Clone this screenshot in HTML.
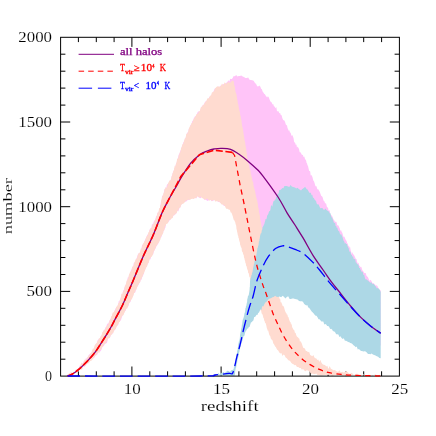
<!DOCTYPE html>
<html><head><meta charset="utf-8"><title>halos</title>
<style>html,body{margin:0;padding:0;background:#fff;width:436px;height:436px;overflow:hidden;font-family:"Liberation Serif",serif}</style></head>
<body>
<svg width="436" height="436" viewBox="0 0 436 436" style="position:absolute;left:0;top:0;will-change:transform">
<rect width="436" height="436" fill="#fff"/>
<g stroke="#000" stroke-width="1" fill="none">
<path d="M78.4,376.1v-4.8M78.4,37.3v4.8M96.3,376.1v-4.8M96.3,37.3v4.8M114.1,376.1v-4.8M114.1,37.3v4.8M131.9,376.1v-9.6M131.9,37.3v9.6M149.8,376.1v-4.8M149.8,37.3v4.8M167.6,376.1v-4.8M167.6,37.3v4.8M185.4,376.1v-4.8M185.4,37.3v4.8M203.3,376.1v-4.8M203.3,37.3v4.8M221.1,376.1v-9.6M221.1,37.3v9.6M238.9,376.1v-4.8M238.9,37.3v4.8M256.7,376.1v-4.8M256.7,37.3v4.8M274.6,376.1v-4.8M274.6,37.3v4.8M292.4,376.1v-4.8M292.4,37.3v4.8M310.2,376.1v-9.6M310.2,37.3v9.6M328.1,376.1v-4.8M328.1,37.3v4.8M345.9,376.1v-4.8M345.9,37.3v4.8M363.7,376.1v-4.8M363.7,37.3v4.8M381.6,376.1v-4.8M381.6,37.3v4.8M60.6,359.2h4.8M399.4,359.2h-4.8M60.6,342.2h4.8M399.4,342.2h-4.8M60.6,325.3h4.8M399.4,325.3h-4.8M60.6,308.3h4.8M399.4,308.3h-4.8M60.6,291.4h9.6M399.4,291.4h-9.6M60.6,274.5h4.8M399.4,274.5h-4.8M60.6,257.5h4.8M399.4,257.5h-4.8M60.6,240.6h4.8M399.4,240.6h-4.8M60.6,223.6h4.8M399.4,223.6h-4.8M60.6,206.7h9.6M399.4,206.7h-9.6M60.6,189.8h4.8M399.4,189.8h-4.8M60.6,172.8h4.8M399.4,172.8h-4.8M60.6,155.9h4.8M399.4,155.9h-4.8M60.6,138.9h4.8M399.4,138.9h-4.8M60.6,122.0h9.6M399.4,122.0h-9.6M60.6,105.1h4.8M399.4,105.1h-4.8M60.6,88.1h4.8M399.4,88.1h-4.8M60.6,71.2h4.8M399.4,71.2h-4.8M60.6,54.2h4.8M399.4,54.2h-4.8"/>
</g>
<path d="M66.4,375.4 L67.6,375.0 L68.8,375.1 L70.0,372.8 L71.2,372.4 L72.4,373.9 L73.6,372.8 L74.7,371.5 L75.8,370.3 L76.9,369.1 L78.1,368.7 L79.0,367.6 L79.9,365.2 L80.8,365.9 L81.8,364.5 L82.6,363.5 L83.5,361.7 L84.3,360.9 L85.2,361.5 L86.0,357.6 L86.8,359.1 L87.5,357.3 L88.3,356.0 L89.1,354.6 L89.8,354.2 L90.6,353.4 L91.4,352.9 L92.1,351.3 L92.9,350.2 L93.7,349.0 L94.5,347.5 L95.2,346.1 L96.0,343.2 L96.8,343.5 L97.6,340.3 L98.3,339.7 L99.1,338.2 L99.9,338.8 L100.7,336.4 L101.5,335.2 L102.3,334.2 L103.1,332.0 L103.9,329.9 L104.7,329.7 L105.5,327.3 L106.2,327.1 L107.0,324.2 L107.7,323.6 L108.4,323.6 L109.1,321.2 L109.8,320.3 L110.5,318.8 L111.2,318.4 L111.9,315.8 L112.6,314.0 L113.3,314.5 L114.0,312.2 L114.8,310.5 L115.5,308.2 L116.2,308.5 L116.9,307.0 L117.5,305.8 L118.2,304.5 L118.8,300.8 L119.4,301.8 L120.0,299.4 L120.4,298.9 L120.9,297.0 L121.4,295.7 L121.9,294.2 L122.4,294.4 L122.9,292.2 L123.4,289.9 L123.8,290.5 L124.3,287.2 L124.8,287.4 L125.3,284.9 L125.8,284.8 L126.3,284.0 L126.8,280.9 L127.2,280.9 L127.7,277.6 L128.3,277.4 L128.8,276.7 L129.3,273.9 L129.9,274.1 L130.4,272.7 L131.0,269.8 L131.5,270.0 L132.1,267.6 L132.6,266.5 L133.2,266.9 L133.8,262.8 L134.3,263.6 L134.9,261.2 L135.4,261.6 L136.1,259.3 L136.8,257.7 L137.5,255.5 L138.2,253.6 L138.9,253.5 L139.6,253.2 L140.2,251.6 L140.8,250.4 L141.4,249.0 L142.0,245.5 L142.7,244.5 L143.3,244.4 L143.9,242.5 L144.5,241.6 L145.1,239.4 L145.7,238.7 L146.2,236.9 L146.8,236.3 L147.3,234.2 L147.9,234.9 L148.4,234.0 L149.0,232.0 L149.6,229.5 L150.2,228.9 L150.7,228.1 L151.3,228.3 L151.9,224.4 L152.4,223.5 L153.0,225.0 L153.6,221.7 L154.2,221.2 L154.7,220.2 L155.3,219.6 L155.8,217.4 L156.3,215.9 L156.8,216.1 L157.3,212.7 L157.9,212.7 L158.4,212.4 L158.9,211.2 L159.4,209.0 L159.9,207.9 L160.2,206.4 L160.4,205.2 L160.7,204.2 L160.9,201.8 L161.2,201.4 L161.4,201.3 L161.7,200.0 L161.9,197.2 L162.2,195.6 L162.7,195.7 L163.2,194.9 L163.7,193.6 L164.1,190.9 L164.6,188.8 L165.1,190.6 L165.6,186.8 L166.2,188.7 L166.8,185.0 L167.4,184.1 L168.1,184.2 L168.7,183.8 L169.4,182.6 L170.0,181.0 L170.7,180.0 L171.3,178.6 L171.7,175.7 L172.1,175.8 L172.5,173.4 L172.9,172.6 L173.3,172.6 L173.7,170.5 L174.1,169.2 L174.4,167.4 L174.8,168.3 L175.2,167.0 L175.6,165.3 L176.0,164.0 L176.4,162.4 L176.8,162.7 L177.2,159.0 L177.6,159.8 L178.1,157.5 L178.5,155.6 L178.9,154.5 L179.4,153.3 L179.8,153.3 L180.3,151.1 L180.7,150.2 L181.1,149.4 L181.6,146.9 L182.0,146.8 L182.5,144.8 L182.9,143.9 L183.4,142.3 L183.8,141.9 L184.3,140.6 L184.7,140.2 L185.2,138.2 L185.6,137.9 L186.1,136.4 L186.6,134.5 L187.2,132.7 L187.7,132.6 L188.2,132.3 L188.7,129.0 L189.2,127.8 L189.8,128.2 L190.3,125.5 L190.9,124.5 L191.5,124.6 L192.1,121.5 L192.7,120.8 L193.3,120.3 L193.9,117.7 L194.5,117.5 L195.1,115.8 L195.9,116.4 L196.7,114.4 L197.5,112.5 L198.3,111.0 L199.1,112.3 L199.9,110.7 L200.7,109.1 L201.5,106.8 L202.3,106.5 L203.0,104.4 L203.8,104.9 L204.6,102.7 L205.4,101.4 L206.4,100.9 L207.5,99.6 L208.6,98.6 L209.6,96.4 L210.4,96.6 L211.2,96.5 L212.0,93.2 L212.7,92.7 L213.5,91.6 L214.3,89.4 L215.1,87.9 L216.2,88.8 L217.3,88.1 L218.4,86.3 L219.5,87.6 L220.6,85.5 L222.0,85.6 L223.4,84.0 L224.7,83.9 L226.1,82.9 L227.5,81.8 L228.4,80.3 L229.3,81.6 L230.2,78.8 L231.0,79.0 L231.9,79.0 L232.8,77.7 L233.7,76.1 L234.9,76.2 L236.2,75.1 L237.4,76.6 L238.7,75.9 L239.9,76.0 L241.3,75.6 L242.7,76.4 L244.0,77.1 L245.4,78.1 L246.8,78.1 L248.2,77.4 L249.5,79.7 L250.9,80.1 L252.3,80.2 L253.6,80.7 L255.0,83.1 L256.1,83.9 L257.2,86.2 L258.2,86.4 L259.3,85.6 L260.4,86.7 L261.1,88.8 L261.9,89.3 L262.6,91.5 L263.4,92.6 L264.1,93.8 L264.9,94.3 L265.6,95.5 L266.4,96.6 L267.1,97.4 L267.9,96.3 L268.7,97.2 L269.4,99.0 L270.2,101.3 L270.9,101.7 L271.7,102.4 L272.5,104.5 L273.2,104.1 L274.0,106.4 L274.7,106.6 L275.5,108.3 L276.3,107.1 L277.0,111.3 L277.8,111.2 L278.5,111.3 L279.3,113.2 L280.1,112.9 L280.8,115.1 L281.6,115.3 L282.3,118.0 L283.1,120.1 L283.7,120.2 L284.4,120.5 L285.0,121.7 L285.6,123.8 L286.2,125.4 L286.9,124.8 L287.5,128.0 L288.1,129.3 L288.7,130.8 L289.4,130.3 L290.0,132.8 L290.6,132.6 L291.2,134.8 L291.8,135.9 L292.4,134.9 L292.9,136.6 L293.5,137.9 L294.1,141.7 L294.7,142.5 L295.3,143.2 L295.9,145.3 L296.4,144.3 L297.0,147.7 L297.6,146.6 L298.2,147.4 L299.0,149.0 L299.7,152.2 L300.5,152.3 L301.2,153.6 L302.0,155.0 L302.8,154.8 L303.5,156.9 L304.3,156.5 L305.0,159.0 L305.8,160.1 L306.2,160.9 L306.6,163.0 L307.1,163.4 L307.5,165.5 L307.9,165.5 L308.4,167.7 L308.8,169.6 L309.2,171.0 L309.7,170.9 L310.2,171.5 L310.7,175.5 L311.2,175.3 L311.7,175.3 L312.2,176.6 L312.7,178.0 L313.2,180.4 L313.7,180.7 L314.2,181.9 L314.7,183.6 L315.2,185.4 L315.9,186.4 L316.6,186.2 L317.2,189.8 L317.9,188.5 L318.6,190.1 L319.3,191.0 L320.0,192.5 L320.7,194.5 L321.3,196.0 L322.0,196.2 L322.7,197.5 L323.3,199.7 L323.9,201.2 L324.5,201.3 L325.0,203.3 L325.6,203.2 L326.2,203.7 L326.8,206.4 L327.4,207.4 L328.0,207.5 L328.5,210.6 L329.1,210.3 L329.7,210.6 L330.3,213.9 L331.0,214.9 L331.7,215.5 L332.4,216.4 L333.1,218.6 L333.8,219.7 L334.4,220.4 L335.1,222.1 L335.8,221.6 L336.5,222.0 L337.2,224.9 L337.9,225.5 L338.5,225.6 L339.2,227.3 L339.8,228.6 L340.4,230.7 L341.1,230.3 L341.7,232.1 L342.3,232.8 L343.0,235.2 L343.6,237.1 L344.2,236.6 L344.9,237.8 L345.5,239.5 L346.1,240.2 L346.7,241.2 L347.2,243.8 L347.8,243.3 L348.4,246.4 L349.0,245.5 L349.5,247.7 L350.1,247.0 L350.7,250.5 L351.3,252.2 L351.8,254.0 L352.4,252.1 L353.0,254.3 L353.7,254.6 L354.4,255.8 L355.1,257.3 L355.8,258.9 L356.5,259.1 L357.1,261.7 L357.8,263.5 L358.5,262.7 L359.2,265.4 L359.9,266.0 L360.6,267.2 L361.3,266.8 L362.1,269.5 L362.8,271.1 L363.5,271.6 L364.3,272.9 L365.0,273.0 L365.7,273.0 L366.5,275.7 L367.2,276.4 L367.9,276.9 L368.7,279.0 L369.4,281.1 L370.3,279.7 L371.3,280.8 L372.2,282.7 L373.1,283.2 L374.1,283.8 L375.0,284.4 L375.9,285.8 L376.9,285.2 L377.8,286.7 L378.8,289.1 L379.7,289.9 L380.7,290.5 L380.7,346.3 L379.7,344.1 L378.6,343.2 L377.6,343.7 L376.6,341.8 L375.5,340.8 L374.5,340.2 L373.5,338.7 L372.4,338.4 L371.4,338.6 L370.4,338.5 L369.3,338.1 L368.3,336.0 L367.2,334.9 L366.2,335.0 L365.2,334.4 L364.1,333.1 L363.1,332.2 L362.1,331.5 L361.0,331.8 L360.0,329.6 L359.0,330.8 L357.9,328.7 L356.9,329.7 L355.9,328.7 L354.8,326.8 L353.8,326.2 L352.8,325.0 L351.7,323.9 L350.7,324.0 L349.7,322.3 L348.6,323.7 L347.6,323.6 L346.6,321.1 L345.5,320.7 L344.5,319.4 L343.5,319.0 L342.4,319.1 L341.4,317.8 L340.3,317.0 L339.3,317.5 L338.3,315.9 L337.2,316.1 L336.2,315.2 L335.2,312.9 L334.1,311.9 L333.1,313.1 L332.1,312.6 L331.0,309.8 L330.0,310.6 L329.1,309.4 L328.2,309.0 L327.3,307.4 L326.4,305.7 L325.5,305.1 L324.5,304.3 L323.6,303.4 L322.7,303.6 L321.8,302.5 L320.9,300.5 L320.0,299.3 L319.1,299.1 L318.2,297.9 L317.3,296.9 L316.4,296.3 L315.5,295.5 L314.5,295.5 L313.6,293.5 L312.7,291.9 L311.8,292.5 L310.9,290.1 L310.0,289.8 L309.1,288.7 L308.2,288.3 L307.3,287.1 L306.4,286.8 L305.5,285.1 L304.5,284.4 L303.6,283.9 L302.7,283.0 L301.8,281.3 L300.9,281.3 L300.0,279.2 L299.2,278.3 L298.5,278.1 L297.8,277.1 L297.0,276.6 L296.2,275.8 L295.5,274.6 L294.8,273.7 L294.0,272.0 L293.2,270.3 L292.5,270.6 L291.8,267.7 L291.0,267.5 L290.2,268.0 L289.5,265.6 L288.8,265.0 L288.0,264.2 L287.2,262.8 L286.5,262.9 L285.8,260.2 L285.0,260.5 L284.2,257.7 L283.5,258.0 L282.8,257.8 L282.0,255.7 L281.2,255.2 L280.5,253.4 L279.8,252.2 L279.0,251.1 L278.2,251.0 L277.5,248.7 L276.8,248.9 L276.0,248.1 L275.2,247.9 L274.5,246.1 L273.8,244.6 L273.0,243.3 L272.2,243.2 L271.5,242.5 L270.8,241.7 L270.0,239.1 L269.2,238.9 L268.4,237.4 L267.6,236.5 L266.8,237.3 L266.0,235.8 L265.2,233.1 L264.4,232.1 L263.6,231.8 L262.8,232.0 L262.0,229.8 L261.2,228.4 L260.4,227.5 L259.6,226.5 L258.8,225.5 L258.0,225.2 L257.2,224.6 L256.4,223.3 L255.6,221.4 L254.8,220.8 L254.0,220.2 L253.2,218.8 L252.4,218.6 L251.6,217.0 L250.8,215.6 L250.0,215.6 L248.9,214.8 L247.8,213.1 L246.7,212.6 L245.6,212.3 L244.4,211.6 L243.3,209.6 L242.2,210.2 L241.1,208.9 L240.0,207.9 L238.6,207.9 L237.2,206.5 L235.8,207.6 L234.4,206.4 L233.0,207.2 L231.7,207.5 L230.3,207.0 L229.0,205.6 L227.7,207.0 L226.3,206.5 L225.0,206.1 L223.9,205.9 L222.7,204.3 L221.6,203.9 L220.5,202.8 L219.3,202.0 L218.2,202.0 L216.9,200.7 L215.6,200.7 L214.4,200.0 L213.1,200.8 L211.8,201.2 L210.5,200.0 L209.3,199.6 L208.0,201.1 L206.7,200.4 L205.5,198.9 L204.3,199.9 L203.2,198.1 L202.0,196.6 L200.5,198.3 L199.0,197.6 L197.5,196.2 L196.2,198.4 L195.0,198.1 L193.7,198.2 L192.5,198.1 L191.2,198.6 L189.9,199.1 L188.7,200.1 L187.4,200.3 L186.3,201.4 L185.1,201.8 L184.0,202.3 L182.8,202.9 L181.7,203.9 L181.0,205.6 L180.3,207.4 L179.7,207.5 L179.0,209.2 L178.3,211.5 L177.5,210.5 L176.6,212.6 L175.8,213.9 L175.0,214.2 L174.2,215.4 L173.3,215.4 L172.5,218.3 L171.6,216.6 L170.7,219.6 L169.8,220.0 L168.9,221.3 L168.0,222.6 L167.1,222.6 L166.2,223.0 L165.8,225.3 L165.3,227.9 L164.9,228.2 L164.4,229.5 L164.0,230.4 L163.5,230.8 L163.1,233.1 L162.6,233.3 L162.2,234.2 L161.6,236.4 L161.0,237.7 L160.4,237.3 L159.8,239.5 L159.1,241.5 L158.4,243.2 L157.7,244.3 L157.1,245.4 L156.4,246.1 L155.7,248.6 L155.0,248.6 L154.3,250.8 L153.7,251.8 L153.0,254.9 L152.3,254.4 L151.6,255.3 L151.0,257.3 L150.4,259.5 L149.7,259.1 L149.1,260.4 L148.5,263.4 L147.9,263.1 L147.4,265.0 L146.8,266.3 L146.2,267.3 L145.6,268.5 L145.0,269.8 L144.4,271.1 L143.8,273.8 L143.2,275.2 L142.6,276.4 L142.0,277.7 L141.4,280.1 L140.8,279.2 L140.1,282.2 L139.5,283.1 L138.8,283.8 L138.2,285.6 L137.5,286.3 L136.9,287.5 L136.2,288.9 L135.6,291.0 L135.0,292.9 L134.3,292.8 L133.7,293.3 L133.0,296.2 L132.4,296.5 L131.7,297.4 L131.1,300.0 L130.4,302.1 L129.8,302.4 L129.2,303.1 L128.5,305.8 L127.8,307.1 L127.0,307.1 L126.3,308.8 L125.5,310.9 L124.8,311.2 L124.0,313.3 L123.3,314.7 L122.5,315.4 L121.8,317.6 L121.0,319.9 L120.3,320.8 L119.6,321.7 L118.8,322.0 L118.1,325.2 L117.3,325.5 L116.5,326.3 L115.8,328.8 L114.9,328.2 L114.1,331.3 L113.3,331.6 L112.4,334.2 L111.6,333.7 L110.7,335.6 L109.8,338.2 L108.8,337.9 L107.9,339.2 L107.0,342.7 L106.0,343.4 L105.1,343.4 L104.1,345.4 L103.1,346.5 L102.1,347.6 L101.2,350.2 L100.2,351.6 L99.2,351.2 L98.2,352.3 L97.2,354.8 L96.3,355.2 L95.3,355.8 L94.3,357.8 L93.4,357.6 L92.4,358.4 L91.4,359.6 L90.3,360.2 L89.2,361.8 L88.1,363.3 L87.0,363.2 L85.8,365.2 L84.6,366.7 L83.4,366.4 L82.2,367.3 L81.1,368.9 L80.1,369.3 L79.0,370.4 L78.0,371.1 L76.9,371.9 L75.8,371.9 L74.7,373.1 L73.6,373.7 L72.4,374.0 L71.3,374.4 L70.2,375.5 L69.1,376.0 L69.0,376.0Z" fill="#ffc4f8"/>
<path d="M66.4,375.9 L67.6,374.6 L68.8,373.7 L70.0,373.2 L71.2,372.4 L72.4,372.8 L73.6,372.8 L74.7,372.8 L75.8,369.5 L76.9,369.6 L78.1,368.6 L79.0,368.2 L79.9,366.9 L80.8,364.0 L81.8,362.4 L82.6,363.8 L83.5,362.6 L84.3,360.3 L85.2,358.9 L86.0,360.7 L86.8,358.5 L87.5,357.3 L88.3,356.8 L89.1,354.3 L89.8,355.8 L90.6,353.3 L91.4,352.8 L92.1,350.7 L92.9,348.5 L93.7,348.7 L94.5,345.8 L95.2,344.5 L96.0,343.9 L96.8,342.7 L97.6,340.9 L98.3,340.6 L99.1,337.9 L99.9,338.4 L100.7,336.2 L101.5,335.8 L102.3,332.2 L103.1,331.6 L103.9,330.3 L104.7,329.7 L105.5,328.4 L106.2,326.9 L107.0,325.4 L107.7,325.3 L108.4,323.4 L109.1,322.7 L109.8,320.0 L110.5,319.5 L111.2,316.4 L111.9,316.1 L112.6,312.7 L113.3,312.6 L114.0,311.9 L114.8,310.2 L115.5,310.1 L116.2,306.8 L116.9,306.6 L117.5,306.0 L118.2,303.5 L118.8,302.9 L119.4,302.2 L120.0,299.4 L120.4,298.8 L120.9,297.4 L121.4,294.1 L121.9,293.4 L122.4,294.2 L122.9,291.4 L123.4,291.2 L123.8,290.3 L124.3,289.9 L124.8,285.8 L125.3,286.2 L125.8,284.3 L126.3,282.5 L126.8,280.3 L127.2,280.8 L127.7,279.1 L128.3,278.5 L128.8,275.3 L129.3,273.9 L129.9,272.4 L130.4,271.8 L131.0,271.3 L131.5,270.7 L132.1,267.4 L132.6,266.5 L133.2,266.2 L133.8,265.0 L134.3,262.3 L134.9,261.9 L135.4,259.7 L136.1,259.1 L136.8,258.8 L137.5,256.4 L138.2,253.9 L138.9,253.3 L139.6,252.9 L140.2,251.6 L140.8,248.5 L141.4,248.8 L142.0,247.3 L142.7,244.6 L143.3,243.3 L143.9,242.8 L144.5,241.0 L145.1,241.0 L145.7,238.5 L146.2,237.3 L146.8,236.3 L147.3,236.2 L147.9,234.5 L148.4,232.0 L149.0,232.4 L149.6,229.9 L150.2,229.5 L150.7,228.5 L151.3,227.6 L151.9,227.9 L152.4,225.1 L153.0,224.2 L153.6,224.1 L154.2,222.3 L154.7,220.7 L155.3,219.9 L155.8,218.2 L156.3,217.9 L156.8,215.5 L157.3,214.0 L157.9,212.2 L158.4,212.4 L158.9,209.5 L159.4,208.0 L159.9,207.9 L160.2,206.4 L160.4,205.7 L160.7,204.9 L160.9,203.8 L161.2,200.6 L161.4,199.3 L161.7,200.1 L161.9,197.9 L162.2,196.7 L162.7,196.0 L163.2,194.4 L163.7,192.6 L164.1,193.1 L164.6,188.8 L165.1,188.9 L165.6,187.3 L166.2,188.3 L166.8,187.3 L167.4,186.0 L168.1,183.1 L168.7,182.3 L169.4,180.4 L170.0,180.5 L170.7,180.4 L171.3,177.8 L171.7,176.4 L172.1,175.6 L172.5,173.8 L172.9,172.7 L173.3,170.9 L173.7,171.1 L174.1,169.0 L174.4,167.6 L174.8,165.4 L175.2,166.7 L175.6,165.7 L176.0,163.7 L176.4,162.9 L176.8,160.9 L177.2,158.4 L177.6,158.6 L178.1,158.7 L178.5,157.0 L178.9,154.5 L179.4,155.1 L179.8,151.9 L180.3,152.5 L180.7,150.2 L181.1,147.7 L181.6,147.8 L182.0,145.8 L182.5,144.4 L182.9,143.7 L183.4,143.9 L183.8,141.8 L184.3,140.2 L184.7,138.5 L185.2,138.6 L185.6,138.1 L186.1,134.8 L186.6,133.5 L187.2,133.9 L187.7,132.5 L188.2,131.7 L188.7,129.5 L189.2,127.7 L189.8,126.6 L190.3,125.7 L190.9,125.0 L191.5,122.9 L192.1,123.2 L192.7,121.7 L193.3,119.8 L193.9,119.2 L194.5,117.8 L195.1,117.2 L195.9,115.4 L196.7,114.1 L197.5,114.0 L198.3,113.1 L199.1,111.2 L199.9,111.3 L200.7,107.6 L201.5,107.0 L202.3,106.3 L203.0,104.8 L203.8,104.9 L204.6,103.3 L205.4,101.9 L206.4,100.9 L207.5,98.3 L208.6,98.5 L209.6,97.1 L210.4,95.4 L211.2,95.3 L212.0,92.3 L212.7,92.2 L213.5,91.8 L214.3,90.7 L215.1,88.4 L216.2,87.2 L217.3,86.3 L218.4,86.8 L219.5,86.5 L220.6,86.5 L222.0,83.6 L223.4,85.5 L224.7,82.3 L226.1,84.0 L227.5,82.4 L228.7,81.9 L229.9,82.9 L231.1,81.7 L232.3,80.6 L233.5,81.0 L233.8,81.8 L234.0,82.4 L234.2,86.2 L234.5,85.1 L234.8,85.9 L235.0,88.5 L235.2,90.0 L235.5,91.6 L235.8,93.0 L236.0,92.4 L236.2,93.7 L236.5,94.2 L236.7,96.1 L237.0,97.7 L237.2,99.4 L237.5,100.6 L237.7,101.6 L238.0,104.7 L238.2,103.7 L238.5,105.3 L238.7,107.8 L239.0,107.6 L239.2,110.4 L239.5,110.2 L239.7,111.5 L240.0,112.6 L240.2,115.0 L240.5,116.1 L240.8,116.6 L241.0,119.6 L241.3,119.4 L241.5,120.1 L241.7,122.9 L242.0,124.2 L242.2,127.0 L242.4,126.1 L242.6,128.5 L242.8,128.0 L243.1,130.0 L243.3,132.3 L243.5,131.9 L243.7,135.2 L243.9,135.1 L244.1,136.7 L244.4,139.0 L244.6,140.2 L244.8,141.1 L245.0,141.9 L245.2,142.5 L245.4,145.5 L245.6,144.9 L245.8,147.2 L246.0,147.8 L246.2,149.3 L246.3,150.5 L246.5,151.8 L246.7,152.8 L246.9,153.4 L247.1,156.2 L247.3,157.6 L247.5,158.3 L247.7,161.5 L248.0,161.0 L248.3,162.6 L248.6,165.6 L248.9,163.5 L249.1,166.0 L249.4,166.9 L249.7,169.8 L250.0,168.7 L250.3,170.1 L250.6,171.5 L250.9,174.4 L251.2,174.3 L251.4,176.8 L251.7,176.7 L252.0,178.5 L252.3,180.1 L252.6,182.0 L252.9,181.2 L253.2,182.1 L253.5,185.7 L253.8,185.9 L254.0,188.4 L254.3,187.9 L254.6,189.8 L254.9,190.4 L255.2,191.6 L255.5,193.7 L255.8,194.7 L256.1,196.7 L256.3,198.1 L256.6,198.1 L256.9,200.4 L257.2,199.9 L257.4,202.1 L257.6,202.6 L257.9,204.3 L258.1,206.2 L258.3,208.2 L258.5,207.7 L258.7,208.9 L259.0,212.2 L259.2,213.1 L259.4,212.8 L259.6,214.7 L259.8,215.1 L260.0,217.4 L260.2,219.6 L260.4,220.3 L260.7,221.2 L260.9,221.4 L261.1,223.8 L261.3,224.4 L261.5,225.7 L261.7,227.0 L262.0,228.5 L262.3,229.3 L262.6,231.3 L262.9,231.5 L263.2,233.3 L263.5,236.7 L263.9,236.7 L264.2,236.6 L264.5,239.7 L264.8,240.3 L265.1,241.4 L265.4,242.9 L265.7,244.6 L266.0,244.3 L266.3,246.5 L266.6,248.4 L266.9,249.2 L267.2,250.8 L267.6,252.4 L267.9,253.5 L268.2,252.9 L268.5,255.2 L268.8,257.0 L269.1,258.4 L269.4,258.6 L269.8,260.3 L270.1,260.8 L270.4,261.4 L270.7,265.0 L271.0,264.0 L271.3,265.9 L271.6,267.7 L271.9,268.3 L272.2,268.8 L272.6,270.8 L272.9,272.0 L273.2,273.5 L273.5,274.6 L273.8,277.3 L274.1,278.1 L274.4,277.7 L274.8,281.0 L275.1,280.4 L275.4,283.5 L275.7,284.4 L276.0,285.7 L276.3,286.1 L276.7,287.8 L277.0,287.8 L277.3,288.9 L277.6,292.3 L278.0,293.2 L278.3,292.6 L278.6,295.8 L279.0,297.1 L279.3,297.6 L279.6,299.4 L279.9,298.5 L280.3,299.6 L280.6,302.2 L281.3,302.3 L282.0,304.1 L282.7,305.9 L283.3,305.9 L284.0,307.1 L284.7,309.7 L285.4,311.8 L285.9,312.8 L286.4,313.3 L286.9,314.8 L287.4,314.6 L288.0,317.2 L288.5,317.0 L289.0,319.3 L289.5,320.5 L290.0,321.8 L290.6,322.2 L291.1,325.0 L291.6,323.3 L292.1,326.9 L292.6,328.0 L293.2,328.9 L293.7,330.1 L294.3,330.3 L295.0,333.0 L295.6,332.7 L296.2,334.9 L296.9,336.4 L297.5,337.1 L298.1,337.4 L298.7,338.3 L299.4,338.7 L300.0,342.0 L300.6,341.1 L301.3,342.6 L301.9,343.8 L302.5,345.8 L303.2,347.7 L303.8,348.0 L304.9,348.6 L305.9,351.1 L306.9,351.1 L308.0,352.3 L309.1,351.7 L310.2,355.1 L311.2,355.4 L312.3,356.2 L313.4,354.9 L314.4,357.6 L315.4,358.2 L316.4,358.4 L317.3,359.9 L318.3,359.5 L319.3,361.9 L320.3,359.8 L321.5,362.8 L322.6,364.3 L323.8,364.8 L325.0,364.9 L326.2,366.6 L327.3,365.8 L328.5,369.0 L329.7,366.0 L330.9,368.7 L332.1,369.2 L333.2,370.3 L334.4,370.1 L335.6,370.6 L336.8,371.4 L338.1,371.8 L339.4,370.2 L340.8,372.5 L342.1,371.7 L343.4,372.4 L344.7,372.2 L346.0,370.9 L347.4,372.0 L348.7,373.2 L350.0,373.9 L351.2,373.1 L352.5,373.6 L353.8,374.9 L355.0,374.7 L356.2,373.7 L357.5,373.7 L358.8,374.7 L360.0,375.2 L361.2,374.5 L362.5,375.6 L363.8,374.0 L365.0,376.0 L366.3,376.0 L367.6,375.5 L368.9,374.5 L370.2,375.5 L371.5,375.3 L372.9,376.3 L374.2,374.5 L375.5,375.6 L376.8,377.0 L378.1,375.4 L379.4,374.7 L380.7,375.5 L380.7,375.5 L379.4,376.1 L378.1,377.0 L376.9,375.4 L375.6,374.3 L374.3,374.8 L373.0,375.6 L371.8,374.8 L370.5,376.5 L369.2,376.4 L367.9,375.0 L366.6,375.0 L365.4,375.2 L364.1,374.7 L362.8,376.3 L361.5,375.3 L360.2,375.7 L359.0,375.2 L357.7,375.7 L356.4,375.1 L355.1,375.4 L353.9,375.0 L352.6,374.9 L351.3,376.0 L350.0,375.5 L348.7,375.4 L347.5,376.3 L346.2,376.1 L344.9,375.8 L343.6,375.7 L342.3,376.0 L341.1,375.9 L339.8,375.5 L338.5,375.2 L337.2,375.7 L335.9,375.0 L334.7,374.9 L333.4,375.5 L332.1,376.3 L330.8,375.1 L329.6,375.5 L328.3,374.7 L327.0,375.1 L325.6,374.8 L324.3,374.9 L322.9,375.2 L321.6,375.5 L320.2,375.6 L318.9,375.0 L317.5,374.9 L316.3,373.5 L315.1,374.1 L313.9,373.9 L312.7,373.6 L311.5,374.1 L310.3,372.7 L309.1,371.3 L307.9,370.6 L306.7,370.2 L305.5,371.2 L304.3,370.6 L303.1,368.9 L301.9,369.8 L300.7,368.0 L299.5,367.9 L298.3,367.0 L297.0,366.9 L295.7,365.1 L294.6,365.3 L293.5,364.3 L292.3,363.7 L291.2,362.8 L290.1,361.0 L289.2,360.4 L288.3,360.2 L287.4,358.9 L286.5,358.1 L285.6,357.5 L284.6,355.3 L283.5,354.6 L282.4,355.9 L281.4,352.9 L280.4,353.4 L279.3,352.6 L278.2,350.6 L277.2,349.7 L276.5,348.6 L275.8,347.1 L275.1,346.4 L274.4,344.9 L273.8,343.9 L273.2,343.3 L272.6,340.4 L272.0,340.0 L271.4,339.2 L270.8,338.6 L270.2,336.0 L269.6,335.5 L269.1,334.3 L268.7,332.5 L268.2,330.5 L267.7,330.7 L267.3,329.3 L266.8,327.9 L266.4,326.0 L265.9,323.9 L265.5,322.7 L265.1,323.2 L264.7,321.3 L264.2,320.4 L263.8,318.3 L263.4,318.1 L262.9,315.8 L262.5,314.2 L262.0,314.2 L261.5,312.7 L261.1,310.5 L260.6,310.6 L260.2,309.5 L259.8,308.6 L259.4,306.6 L258.9,304.8 L258.5,303.8 L258.1,302.3 L257.7,300.9 L257.3,300.4 L256.9,299.3 L256.4,298.4 L256.0,296.0 L255.6,295.1 L255.2,294.4 L254.8,294.0 L254.4,291.2 L253.9,291.4 L253.5,288.1 L253.1,289.0 L252.7,287.0 L252.3,286.9 L251.9,285.3 L251.4,284.3 L251.0,282.3 L250.6,280.5 L250.2,280.3 L249.9,277.3 L249.5,277.3 L249.2,276.1 L248.9,274.3 L248.6,273.1 L248.2,272.9 L247.9,270.8 L247.5,269.8 L247.2,269.0 L246.8,267.2 L246.5,266.1 L246.1,265.8 L245.8,263.6 L245.4,263.1 L245.1,260.9 L244.7,259.9 L244.4,258.3 L244.0,257.5 L243.7,254.7 L243.3,254.8 L243.0,253.4 L242.6,251.8 L242.3,252.1 L241.9,251.0 L241.6,247.9 L241.2,247.6 L240.9,246.9 L240.5,245.3 L240.2,245.2 L239.8,241.9 L239.5,241.6 L239.1,239.9 L238.8,238.1 L238.5,238.3 L238.2,235.8 L237.9,235.6 L237.7,234.5 L237.4,232.7 L237.1,231.8 L236.8,229.8 L236.5,229.2 L236.2,225.7 L235.9,224.8 L235.6,224.3 L235.3,222.6 L234.8,221.6 L234.3,220.3 L233.8,219.9 L233.4,218.8 L232.9,216.7 L232.4,215.3 L231.9,213.8 L231.3,212.6 L230.7,212.5 L229.8,209.7 L228.8,209.7 L227.8,208.8 L226.9,209.0 L225.9,208.3 L225.0,206.3 L223.9,204.9 L222.7,204.6 L221.6,204.5 L220.5,203.1 L219.3,201.7 L218.2,201.6 L216.9,201.1 L215.6,201.8 L214.4,200.1 L213.1,200.1 L211.8,201.0 L210.5,199.8 L209.3,200.8 L208.0,199.3 L206.7,198.6 L205.5,200.0 L204.3,198.9 L203.2,198.5 L202.0,197.9 L200.5,196.5 L199.0,197.6 L197.5,196.1 L196.2,198.0 L195.0,198.1 L193.7,198.9 L192.5,198.7 L191.2,199.0 L189.9,200.0 L188.7,199.5 L187.4,200.0 L186.3,200.4 L185.1,201.6 L184.0,203.2 L182.8,203.7 L181.7,204.2 L181.0,205.4 L180.3,207.6 L179.7,207.4 L179.0,208.1 L178.3,210.3 L177.5,210.6 L176.6,213.6 L175.8,213.0 L175.0,215.1 L174.2,214.6 L173.3,215.7 L172.5,217.9 L171.6,218.5 L170.7,219.4 L169.8,219.5 L168.9,220.6 L168.0,222.9 L167.1,223.8 L166.2,223.9 L165.8,225.5 L165.3,225.8 L164.9,227.2 L164.4,229.5 L164.0,230.9 L163.5,230.7 L163.1,233.2 L162.6,233.9 L162.2,235.1 L161.6,235.8 L161.0,236.6 L160.4,239.6 L159.8,240.4 L159.1,242.0 L158.4,243.1 L157.7,243.9 L157.1,244.8 L156.4,245.9 L155.7,247.3 L155.0,249.5 L154.3,250.5 L153.7,251.5 L153.0,254.2 L152.3,255.8 L151.6,256.9 L151.0,256.7 L150.4,257.9 L149.7,258.6 L149.1,261.3 L148.5,262.8 L147.9,263.2 L147.4,265.0 L146.8,266.9 L146.2,267.3 L145.6,268.7 L145.0,270.5 L144.4,271.7 L143.8,273.7 L143.2,273.9 L142.6,276.4 L142.0,276.8 L141.4,279.3 L140.8,279.0 L140.1,282.3 L139.5,282.2 L138.8,284.2 L138.2,285.1 L137.5,286.4 L136.9,287.7 L136.2,290.0 L135.6,289.9 L135.0,292.5 L134.3,292.4 L133.7,294.5 L133.0,296.5 L132.4,298.0 L131.7,299.3 L131.1,299.8 L130.4,301.3 L129.8,302.1 L129.2,303.2 L128.5,304.7 L127.8,307.3 L127.0,308.7 L126.3,308.5 L125.5,310.3 L124.8,311.8 L124.0,313.4 L123.3,315.2 L122.5,315.4 L121.8,316.6 L121.0,318.0 L120.3,320.2 L119.6,322.1 L118.8,322.3 L118.1,324.5 L117.3,325.6 L116.5,326.8 L115.8,328.8 L114.9,330.3 L114.1,330.0 L113.3,333.3 L112.4,332.9 L111.6,335.1 L110.7,335.3 L109.8,338.0 L108.8,337.9 L107.9,338.5 L107.0,340.7 L106.0,342.4 L105.1,344.1 L104.1,343.9 L103.1,346.5 L102.1,347.3 L101.2,349.5 L100.2,350.1 L99.2,353.3 L98.2,352.3 L97.2,353.5 L96.3,354.7 L95.3,356.1 L94.3,356.4 L93.4,358.5 L92.4,359.4 L91.4,360.8 L90.3,361.1 L89.2,362.6 L88.1,363.6 L87.0,363.6 L85.8,365.5 L84.6,365.7 L83.4,366.2 L82.2,369.5 L81.1,369.7 L80.1,369.2 L79.0,370.0 L78.0,372.1 L76.9,371.3 L75.8,373.1 L74.7,371.8 L73.6,374.1 L72.4,374.2 L71.3,374.4 L70.2,375.3 L69.1,375.8 L69.0,376.0Z" fill="#ffdbd0"/>
<path d="M212.0,375.3 L213.2,377.3 L214.5,376.0 L215.8,374.0 L217.0,375.9 L218.2,372.8 L219.5,374.7 L220.8,372.4 L222.0,373.3 L223.3,372.1 L224.7,373.1 L226.0,371.9 L227.3,370.8 L228.7,371.1 L230.0,372.1 L231.2,370.2 L232.4,370.0 L233.6,369.2 L233.9,367.3 L234.2,367.3 L234.4,364.5 L234.7,364.0 L235.0,363.5 L235.2,362.2 L235.5,360.0 L235.8,358.3 L236.0,356.6 L236.3,355.6 L236.5,354.1 L236.7,353.4 L237.0,353.6 L237.2,350.7 L237.4,350.4 L237.7,349.8 L237.9,347.2 L238.2,345.4 L238.4,343.9 L238.6,343.2 L238.9,341.2 L239.1,341.6 L239.3,340.7 L239.6,339.5 L239.8,338.2 L240.0,335.8 L240.2,334.0 L240.4,333.4 L240.6,331.7 L240.8,332.0 L241.1,329.5 L241.3,328.3 L241.5,328.0 L241.7,326.7 L241.9,324.2 L242.1,324.8 L242.5,321.0 L242.9,319.2 L243.3,318.5 L243.7,317.3 L244.1,315.7 L244.4,314.0 L244.7,312.3 L244.9,313.1 L245.2,310.4 L245.5,307.8 L245.8,308.0 L246.0,305.5 L246.3,306.3 L246.6,304.0 L246.8,303.0 L247.1,302.0 L247.3,298.7 L247.6,298.4 L247.9,296.2 L248.3,295.3 L248.6,295.9 L248.9,294.1 L249.3,291.8 L249.6,289.7 L249.7,287.2 L249.8,286.9 L249.9,286.7 L249.9,284.8 L250.0,281.8 L250.1,280.7 L250.2,280.3 L250.5,278.6 L250.8,278.1 L251.2,276.4 L251.5,274.7 L251.8,275.0 L252.1,272.5 L252.4,272.4 L252.7,270.9 L253.1,268.0 L253.4,266.8 L253.7,265.7 L254.0,263.4 L254.2,264.6 L254.5,261.3 L254.7,260.4 L255.0,259.7 L255.3,259.5 L255.5,258.9 L255.8,256.2 L256.1,256.2 L256.3,255.3 L256.6,253.4 L256.8,252.1 L257.1,250.9 L257.4,248.3 L257.6,247.6 L257.9,247.7 L258.2,245.1 L258.4,245.9 L258.7,243.3 L259.0,240.8 L259.3,241.4 L259.5,238.9 L259.8,238.3 L260.1,235.6 L260.3,235.2 L260.6,233.6 L261.0,233.5 L261.4,233.1 L261.8,230.2 L262.2,229.7 L262.6,227.0 L263.1,226.6 L263.5,225.8 L263.9,224.5 L264.3,224.2 L264.7,222.2 L265.1,221.2 L265.6,218.8 L266.2,219.5 L266.7,218.3 L267.2,215.6 L267.7,215.0 L268.3,214.0 L268.8,212.3 L269.3,210.9 L269.8,211.3 L270.4,209.9 L270.9,206.2 L271.6,204.9 L272.3,206.7 L272.9,203.2 L273.6,201.1 L274.3,200.9 L275.0,199.2 L275.5,199.8 L276.1,197.3 L276.6,196.4 L277.1,195.2 L277.6,193.4 L278.1,194.2 L278.7,192.7 L279.2,190.1 L280.2,189.9 L281.3,189.2 L282.4,187.9 L283.4,188.3 L284.4,185.9 L285.5,186.1 L286.8,185.9 L288.0,186.4 L289.3,186.9 L290.6,185.1 L291.8,186.5 L293.1,187.1 L295.0,187.4 L296.2,188.6 L297.5,187.7 L298.8,188.9 L300.0,189.8 L301.0,190.5 L302.0,189.3 L303.1,188.4 L304.1,187.8 L305.1,186.7 L305.9,188.1 L306.8,189.3 L307.6,189.6 L308.4,191.1 L309.3,192.8 L310.1,192.7 L310.8,192.8 L311.6,195.3 L312.3,194.8 L313.0,197.7 L313.7,197.8 L314.5,199.2 L315.2,200.8 L315.9,200.2 L316.6,203.3 L317.3,204.5 L318.1,203.9 L318.8,205.1 L319.5,206.5 L320.2,208.3 L321.5,207.9 L322.7,208.2 L324.0,210.2 L325.3,208.5 L326.5,209.9 L327.8,211.1 L328.4,211.2 L329.1,211.7 L329.7,213.5 L330.3,212.9 L330.9,215.5 L331.6,217.4 L332.2,217.6 L332.8,219.4 L333.4,221.0 L333.9,222.7 L334.5,223.0 L335.1,222.5 L335.6,225.9 L336.2,225.9 L336.8,227.9 L337.3,227.5 L337.9,230.1 L338.5,231.0 L339.2,231.2 L339.8,233.6 L340.4,234.7 L341.1,234.0 L341.7,235.6 L342.3,236.4 L343.0,238.7 L343.6,240.8 L344.2,241.3 L344.9,243.7 L345.5,242.8 L346.1,244.0 L346.8,244.0 L347.4,245.5 L348.0,247.2 L348.6,248.0 L349.2,250.9 L349.9,252.1 L350.5,251.5 L351.1,254.7 L351.8,254.8 L352.4,256.9 L353.0,255.9 L353.7,258.9 L354.4,259.3 L355.1,258.6 L355.8,262.5 L356.5,262.6 L357.1,264.5 L357.8,264.0 L358.5,265.0 L359.2,268.1 L359.9,268.1 L360.6,270.1 L361.3,270.9 L362.0,272.4 L362.7,271.2 L363.4,275.3 L364.1,274.3 L364.8,277.5 L365.5,279.6 L366.2,278.9 L366.9,280.0 L368.1,280.4 L369.3,282.1 L370.5,282.7 L371.4,282.3 L372.3,284.2 L373.2,283.6 L374.1,284.4 L375.1,285.8 L376.0,286.8 L376.9,288.4 L377.8,288.0 L378.8,288.7 L379.7,289.8 L380.7,292.0 L380.7,358.2 L379.4,358.0 L378.1,356.8 L376.8,356.3 L375.5,355.6 L374.2,355.1 L372.9,354.5 L371.7,353.5 L370.5,354.3 L369.3,354.1 L368.0,353.9 L366.8,352.5 L365.6,351.5 L364.4,351.3 L363.2,351.6 L362.1,350.9 L361.0,351.0 L360.0,349.9 L358.9,348.9 L357.8,349.5 L356.7,346.6 L355.7,347.2 L354.6,346.0 L353.5,345.3 L352.4,343.9 L351.3,343.3 L350.3,342.9 L349.2,342.3 L348.1,342.0 L347.0,341.3 L346.0,340.7 L344.9,340.8 L343.8,338.2 L342.7,338.9 L341.6,337.9 L340.5,336.3 L339.4,336.9 L338.4,334.5 L337.3,334.3 L336.2,334.3 L335.1,332.3 L334.0,331.3 L333.0,331.3 L332.1,329.6 L331.1,328.7 L330.1,329.0 L329.1,326.8 L328.2,326.0 L327.2,326.1 L326.2,324.6 L325.3,323.9 L324.3,324.4 L323.3,321.6 L322.4,321.6 L321.4,321.5 L320.4,320.3 L319.5,319.2 L318.5,319.3 L317.5,317.2 L316.5,315.8 L315.6,315.7 L314.6,314.7 L313.7,313.5 L312.8,312.4 L311.9,311.8 L311.0,310.4 L310.0,309.1 L309.1,307.8 L308.2,307.4 L307.3,305.0 L306.3,305.4 L305.2,304.7 L304.2,303.9 L303.1,302.1 L302.1,301.3 L301.0,301.2 L300.0,301.3 L298.8,300.8 L297.5,299.4 L296.2,299.2 L295.0,299.0 L293.6,298.6 L292.3,298.4 L290.9,299.0 L289.6,298.9 L288.2,296.3 L286.8,296.9 L285.4,298.4 L284.1,296.9 L282.7,295.7 L281.1,297.3 L279.6,296.5 L278.1,297.0 L276.5,296.7 L275.1,295.8 L273.7,297.0 L272.4,297.3 L271.0,298.2 L269.6,298.6 L268.7,299.2 L267.8,300.1 L266.9,301.5 L265.9,302.1 L265.0,302.9 L264.1,304.7 L263.4,306.5 L262.7,306.0 L262.0,307.0 L261.3,310.2 L260.6,309.1 L259.8,310.7 L259.0,312.6 L258.2,313.1 L257.4,314.9 L256.6,314.8 L255.8,315.9 L255.0,317.0 L254.2,317.0 L253.4,320.4 L252.6,321.1 L251.8,322.3 L251.0,322.3 L250.2,324.7 L249.5,326.9 L248.8,326.9 L248.0,328.7 L247.2,328.5 L246.5,330.2 L245.9,331.0 L245.3,332.1 L244.6,335.1 L244.0,336.6 L243.4,335.9 L243.0,338.5 L242.6,339.9 L242.2,341.3 L241.8,341.8 L241.4,343.7 L241.0,344.4 L240.6,346.7 L240.2,346.8 L239.9,349.4 L239.7,349.6 L239.4,351.9 L239.1,352.3 L238.9,354.9 L238.6,355.2 L238.3,357.0 L238.1,357.4 L237.8,359.4 L237.5,359.2 L237.2,362.1 L236.9,363.9 L236.7,363.6 L236.4,365.4 L236.1,367.8 L235.8,367.9 L235.5,369.4 L235.2,370.8 L235.0,373.7 L234.8,374.8 L234.5,376.0Z" fill="#add8e6"/>
<rect x="60.6" y="37.3" width="338.8" height="338.8" stroke="#000" stroke-width="1" fill="none"/>
<g fill="none" stroke-linejoin="round">
<path d="M67.6,376.0 C68.3,375.7 70.3,375.2 72.0,374.2 C73.7,373.2 75.3,372.3 77.8,370.2 C80.3,368.1 84.0,364.6 86.9,361.6 C89.8,358.6 92.5,355.6 95.0,352.4 C97.5,349.1 99.7,345.4 101.8,342.1 C103.9,338.9 106.0,335.6 107.6,332.9 C109.2,330.2 110.4,328.1 111.6,326.0 C112.8,323.9 112.9,323.5 114.7,320.0 C116.5,316.5 120.4,309.6 122.6,305.0 C124.8,300.4 126.2,296.7 128.0,292.5 C129.8,288.3 130.8,286.2 133.4,280.0 C136.0,273.8 140.5,262.4 143.8,255.0 C147.1,247.6 149.9,242.6 153.0,235.5 C156.1,228.4 159.5,218.6 162.2,212.5 C164.9,206.4 166.6,203.4 169.1,198.8 C171.6,194.2 175.1,188.5 177.1,185.0 C179.1,181.5 178.8,181.4 181.0,177.8 C183.2,174.2 187.4,167.2 190.5,163.3 C193.6,159.4 197.1,156.7 199.8,154.6 C202.6,152.5 204.6,151.9 207.0,151.0 C209.4,150.1 211.6,149.4 214.0,149.0 C216.4,148.6 218.6,148.2 221.4,148.3 C224.2,148.4 227.7,148.4 230.6,149.3 C233.5,150.2 235.8,152.1 238.7,154.0 C241.5,155.9 244.5,158.2 247.7,160.9 C250.9,163.6 255.3,167.5 257.8,170.0 C260.3,172.5 259.4,171.3 262.8,175.8 C266.2,180.3 274.0,190.9 278.0,197.0 C282.0,203.1 284.1,207.9 286.9,212.6 C289.7,217.3 292.3,220.7 295.0,225.0 C297.7,229.3 300.1,233.0 303.2,238.2 C306.2,243.3 310.0,250.6 313.3,255.9 C316.6,261.2 320.1,265.6 323.1,270.0 C326.2,274.4 328.6,278.1 331.6,282.2 C334.6,286.2 338.1,290.2 341.3,294.3 C344.5,298.4 347.8,302.6 351.0,306.5 C354.2,310.4 357.6,314.2 360.8,317.4 C364.1,320.6 367.2,323.3 370.5,325.9 C373.8,328.5 379.0,332.0 380.7,333.2" stroke="#800080" stroke-width="1.3"/>
<path d="M67.6,376.0 C68.3,375.7 70.3,375.2 72.0,374.2 C73.7,373.2 75.3,372.3 77.8,370.2 C80.3,368.1 84.0,364.6 86.9,361.6 C89.8,358.6 92.5,355.6 95.0,352.4 C97.5,349.1 99.7,345.4 101.8,342.1 C103.9,338.9 106.0,335.6 107.6,332.9 C109.2,330.2 110.4,328.1 111.6,326.0 C112.8,323.9 112.9,323.5 114.7,320.0 C116.5,316.5 120.4,309.6 122.6,305.0 C124.8,300.4 126.2,296.7 128.0,292.5 C129.8,288.3 130.8,286.2 133.4,280.0 C136.0,273.8 140.5,262.4 143.8,255.0 C147.1,247.6 149.9,242.6 153.0,235.5 C156.1,228.4 159.5,218.6 162.2,212.5 C164.9,206.4 167.9,201.1 169.1,198.8 L181.0,176.2 L199.4,154.8 L214.0,150.2 L232.4,152.4" stroke="#ff0000" stroke-width="1.6" stroke-dasharray="7 2.6"/>
<path d="M232.4,152.4 L234.6,155.5 L236.5,166.0 L238.9,178.5 L240.1,185.2 L243.3,200.0 C244.1,203.8 246.4,215.2 247.9,222.9 C249.4,230.6 251.0,238.6 252.5,245.9 C254.0,253.2 255.4,260.0 257.1,266.5 C258.8,273.0 261.5,281.0 262.8,284.9 C264.1,288.8 263.9,287.6 264.8,290.0 C265.7,292.4 266.8,295.7 268.2,299.6 C269.6,303.5 271.3,309.0 273.0,313.4 C274.7,317.8 276.7,321.9 278.5,325.8 C280.3,329.7 281.7,332.9 284.0,336.8 C286.3,340.7 289.6,345.6 292.3,349.0 C295.0,352.4 297.5,354.9 300.4,357.5 C303.3,360.1 306.5,362.4 309.7,364.4 C312.9,366.4 316.1,368.0 319.4,369.4 C322.6,370.8 325.1,371.8 329.2,372.7 C333.3,373.6 338.5,374.2 343.8,374.7 C349.1,375.2 354.7,375.3 360.8,375.5 C366.9,375.7 377.4,375.8 380.7,375.8" stroke="#ff0000" stroke-width="1.25" stroke-dasharray="5.3 4.3"/>
<path d="M67.6,376.0 C89.7,376.0 175.4,376.2 200.0,376.0 C224.6,375.8 210.2,375.2 215.0,374.8 C219.8,374.4 226.0,373.8 229.0,373.4 C232.0,373.0 231.6,375.3 232.9,372.6 C234.2,369.9 235.6,361.7 236.8,357.1 C238.0,352.5 239.0,349.1 240.0,345.0 C241.0,340.9 241.8,337.1 242.8,332.7 C243.8,328.3 245.1,323.3 246.2,318.9 C247.3,314.5 248.4,310.3 249.6,306.5 C250.8,302.7 251.8,300.6 253.1,296.2 C254.3,291.8 255.5,285.2 257.1,280.3 C258.7,275.4 260.9,270.5 262.8,266.5 C264.7,262.5 266.5,259.2 268.6,256.2 C270.7,253.2 273.2,250.3 275.5,248.6 C277.8,246.9 280.5,246.1 282.6,245.8 C284.7,245.5 286.0,246.2 288.1,246.8 C290.2,247.4 292.5,248.3 295.0,249.4 C297.5,250.5 300.2,251.2 303.2,253.3 C306.1,255.4 310.0,259.3 312.7,262.1 C315.4,264.9 316.9,266.6 319.6,270.0 C322.3,273.4 325.7,278.1 329.1,282.2 C332.5,286.2 336.2,290.2 339.8,294.3 C343.4,298.4 347.0,302.6 350.5,306.5 C354.0,310.4 357.5,314.2 360.8,317.4 C364.1,320.6 367.2,323.3 370.5,325.9 C373.8,328.5 379.0,332.0 380.7,333.2" stroke="#0000ff" stroke-width="1.3" stroke-dasharray="12.5 5"/>
<path d="M78.6,54.3H114" stroke="#800080" stroke-width="1"/>
<path d="M78.6,71.2H114" stroke="#ff0000" stroke-width="1" stroke-dasharray="5.5 4.1"/>
<path d="M78.6,88.2H114" stroke="#0000ff" stroke-width="1" stroke-dasharray="13.5 5.8"/>
</g>
<g font-family="'Liberation Serif', serif">
<text x="52.0" y="381.0" font-size="14.6" textLength="7.0" lengthAdjust="spacingAndGlyphs" text-anchor="end" fill="#000" stroke="#fff" stroke-width="0.12">0</text>
<text x="52.0" y="296.3" font-size="14.6" textLength="25.5" lengthAdjust="spacingAndGlyphs" text-anchor="end" fill="#000" stroke="#fff" stroke-width="0.12">500</text>
<text x="52.0" y="211.6" font-size="14.6" textLength="33.7" lengthAdjust="spacingAndGlyphs" text-anchor="end" fill="#000" stroke="#fff" stroke-width="0.12">1000</text>
<text x="52.0" y="126.9" font-size="14.6" textLength="33.7" lengthAdjust="spacingAndGlyphs" text-anchor="end" fill="#000" stroke="#fff" stroke-width="0.12">1500</text>
<text x="52.0" y="42.2" font-size="14.6" textLength="33.7" lengthAdjust="spacingAndGlyphs" text-anchor="end" fill="#000" stroke="#fff" stroke-width="0.12">2000</text>
<text x="132.2" y="394.0" font-size="14.6" textLength="17.0" lengthAdjust="spacingAndGlyphs" text-anchor="middle" fill="#000" stroke="#fff" stroke-width="0.12">10</text>
<text x="221.4" y="394.0" font-size="14.6" textLength="17.0" lengthAdjust="spacingAndGlyphs" text-anchor="middle" fill="#000" stroke="#fff" stroke-width="0.12">15</text>
<text x="310.5" y="394.0" font-size="14.6" textLength="17.0" lengthAdjust="spacingAndGlyphs" text-anchor="middle" fill="#000" stroke="#fff" stroke-width="0.12">20</text>
<text x="399.7" y="394.0" font-size="14.6" textLength="17.0" lengthAdjust="spacingAndGlyphs" text-anchor="middle" fill="#000" stroke="#fff" stroke-width="0.12">25</text>
<text x="229.7" y="410.8" font-size="14.0" textLength="58.0" lengthAdjust="spacingAndGlyphs" text-anchor="middle" fill="#000" stroke="#fff" stroke-width="0.12">redshift</text>
<text x="0.0" y="0.0" font-size="13.0" textLength="56.3" lengthAdjust="spacingAndGlyphs" text-anchor="middle" fill="#000" stroke="#fff" stroke-width="0.12" transform="translate(11.6,206.2) rotate(-90)">number</text>
<text x="120.0" y="54.8" font-size="9.5" textLength="42.2" lengthAdjust="spacingAndGlyphs" text-anchor="start" fill="#800080" stroke="#800080" stroke-width="0.25">all halos</text>
<g fill="#ff0000" stroke="#ff0000" stroke-width="0.28"><text x="120.0" y="71.3" font-size="9.5" textLength="4.9" lengthAdjust="spacingAndGlyphs">T</text><text x="124.9" y="73.5" font-size="5.5" textLength="8.4" lengthAdjust="spacingAndGlyphs">vir</text><text x="133.8" y="71.3" font-size="9.5" textLength="5.9" lengthAdjust="spacingAndGlyphs">≥</text><text x="140.8" y="71.3" font-size="9.5" textLength="11.2" lengthAdjust="spacingAndGlyphs">10</text><text x="152.2" y="67.7" font-size="5.5" textLength="2.2" lengthAdjust="spacingAndGlyphs">4</text><text x="159.8" y="71.3" font-size="9.5" textLength="6.2" lengthAdjust="spacingAndGlyphs">K</text></g>
<g fill="#0000ff" stroke="#0000ff" stroke-width="0.28"><text x="120.0" y="88.6" font-size="9.5" textLength="4.9" lengthAdjust="spacingAndGlyphs">T</text><text x="124.9" y="90.8" font-size="5.5" textLength="8.4" lengthAdjust="spacingAndGlyphs">vir</text><text x="133.8" y="88.6" font-size="9.5" textLength="5.5" lengthAdjust="spacingAndGlyphs">&lt;</text><text x="145.6" y="88.6" font-size="9.5" textLength="11.0" lengthAdjust="spacingAndGlyphs">10</text><text x="156.8" y="85.0" font-size="5.5" textLength="2.2" lengthAdjust="spacingAndGlyphs">4</text><text x="164.6" y="88.6" font-size="9.5" textLength="5.7" lengthAdjust="spacingAndGlyphs">K</text></g>
</g>
</svg>
</body></html>
